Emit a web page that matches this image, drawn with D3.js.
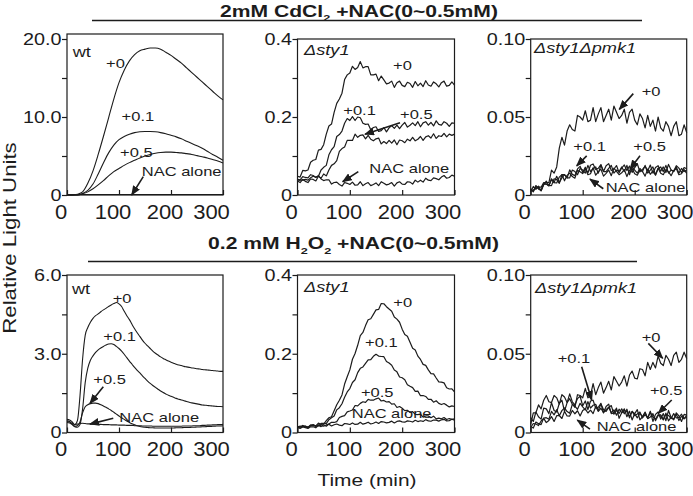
<!DOCTYPE html>
<html><head><meta charset="utf-8">
<script src="https://cdn.jsdelivr.net/npm/d3@7"></script>
<style>body{margin:0;background:#fff}svg{display:block}</style>
</head><body><svg id="c" width="693" height="496"></svg>
<script>
// ---------- DATA ----------
const times10 = d3.range(0, 301, 10);
const times5 = d3.range(0, 301, 5);
const seriesNames = ['+0', '+0.1', '+0.5', 'NAC alone'];

// 2mM CdCl2, wt (10-min grid)
const cd_wt_0   = [0,0,0.1,0.4,1.5,3.1,5.2,7.5,9.9,12.3,14.4,16.0,17.2,18.0,18.5,18.7,18.85,18.85,18.7,18.3,17.9,17.4,16.9,16.3,15.7,15.1,14.5,13.9,13.3,12.7,12.2];
const cd_wt_01  = [0,0,0,0.2,0.6,1.4,2.7,4.1,5.4,6.4,7.1,7.5,7.8,8.0,8.1,8.15,8.15,8.1,8.0,7.85,7.65,7.45,7.2,6.9,6.6,6.3,6.0,5.6,5.2,4.85,4.45];
const cd_wt_05  = [0,0,0,0.15,0.4,0.8,1.3,1.85,2.45,3.0,3.4,3.8,4.15,4.45,4.75,5.0,5.2,5.35,5.45,5.5,5.5,5.45,5.4,5.3,5.2,5.05,4.9,4.75,4.55,4.35,4.1];
const cd_wt_nac = [0.05,0.05,0.06,0.06,0.07,0.07,0.07,0.06,0.06,0.06,0.06,0.06,0.06,0.06,0.06,0.06,0.06,0.06,0.06,0.06,0.06,0.06,0.06,0.06,0.06,0.06,0.06,0.06,0.06,0.06,0.06];

// 2mM CdCl2, Δsty1 (5-min grid)
const cd_sty1_0 = [0.048,0.046,0.063,0.062,0.064,0.084,0.089,0.091,0.115,0.117,0.129,0.156,0.177,0.182,0.212,0.235,0.246,0.261,0.296,0.308,0.313,0.330,0.322,0.327,0.342,0.326,0.329,0.329,0.308,0.308,0.310,0.293,0.305,0.295,0.285,0.287,0.292,0.276,0.288,0.292,0.281,0.278,0.289,0.286,0.276,0.291,0.280,0.287,0.278,0.293,0.282,0.279,0.290,0.285,0.277,0.288,0.292,0.279,0.281,0.290,0.282];
const cd_sty1_01 = [0.034,0.039,0.038,0.040,0.038,0.044,0.048,0.046,0.048,0.064,0.071,0.076,0.103,0.116,0.124,0.150,0.155,0.164,0.184,0.196,0.191,0.201,0.191,0.200,0.198,0.184,0.181,0.182,0.167,0.173,0.175,0.163,0.165,0.173,0.162,0.172,0.178,0.171,0.179,0.170,0.179,0.186,0.174,0.179,0.185,0.178,0.188,0.175,0.185,0.188,0.179,0.186,0.177,0.190,0.181,0.179,0.188,0.184,0.176,0.185,0.184];
const cd_sty1_05 = [0.036,0.032,0.040,0.035,0.032,0.041,0.040,0.036,0.048,0.043,0.054,0.049,0.064,0.076,0.080,0.088,0.112,0.119,0.123,0.140,0.140,0.140,0.156,0.148,0.153,0.154,0.144,0.153,0.143,0.139,0.144,0.146,0.131,0.137,0.132,0.140,0.133,0.141,0.129,0.141,0.139,0.134,0.143,0.139,0.148,0.139,0.143,0.150,0.140,0.149,0.152,0.146,0.157,0.145,0.152,0.150,0.158,0.149,0.156,0.153,0.156];
const cd_sty1_nac = [0.040,0.039,0.047,0.045,0.044,0.052,0.050,0.045,0.050,0.041,0.037,0.039,0.039,0.028,0.032,0.033,0.027,0.023,0.032,0.030,0.027,0.033,0.025,0.026,0.034,0.024,0.029,0.032,0.024,0.027,0.031,0.024,0.034,0.030,0.026,0.028,0.032,0.023,0.031,0.034,0.028,0.027,0.034,0.033,0.028,0.038,0.033,0.038,0.033,0.043,0.038,0.037,0.044,0.042,0.039,0.046,0.050,0.043,0.045,0.051,0.048];

// 2mM CdCl2, Δsty1Δpmk1 (5-min grid)
const cd_dd_0 = [0.003,0.003,0.005,0.005,0.005,0.008,0.008,0.008,0.016,0.014,0.018,0.030,0.037,0.032,0.041,0.045,0.042,0.041,0.051,0.050,0.048,0.054,0.047,0.048,0.056,0.047,0.052,0.056,0.047,0.051,0.055,0.048,0.057,0.053,0.049,0.051,0.055,0.046,0.053,0.055,0.048,0.045,0.052,0.049,0.043,0.051,0.044,0.048,0.041,0.050,0.043,0.041,0.047,0.044,0.038,0.044,0.047,0.038,0.039,0.045,0.040];
const cd_dd_01 = [0.002,0.0055,0.0036,0.0057,0.0026,0.0066,0.0089,0.0061,0.006,0.0104,0.0099,0.0075,0.013,0.013,0.0109,0.0161,0.0132,0.0124,0.0167,0.0184,0.0145,0.0178,0.0141,0.0191,0.0199,0.0163,0.0171,0.0195,0.0151,0.0187,0.0201,0.0157,0.0165,0.0189,0.0143,0.0173,0.0193,0.0157,0.0185,0.0145,0.0176,0.0200,0.0148,0.0164,0.0184,0.0156,0.0192,0.0140,0.0176,0.0188,0.0152,0.0180,0.0144,0.0196,0.0160,0.0152,0.0188,0.0172,0.0144,0.0176,0.0168];
const cd_dd_05 = [0.004,0.002,0.006,0.004,0.003,0.007,0.007,0.006,0.010,0.008,0.012,0.008,0.011,0.013,0.011,0.011,0.016,0.015,0.013,0.017,0.016,0.014,0.019,0.015,0.017,0.018,0.014,0.019,0.015,0.015,0.017,0.019,0.014,0.016,0.015,0.018,0.015,0.019,0.013,0.018,0.016,0.014,0.017,0.015,0.019,0.014,0.016,0.018,0.013,0.017,0.018,0.015,0.019,0.014,0.016,0.015,0.018,0.014,0.017,0.015,0.016];
const cd_dd_nac = [0.0039,0.0023,0.0058,0.0039,0.0029,0.0073,0.0071,0.0058,0.0104,0.0079,0.0077,0.0115,0.0131,0.0091,0.0126,0.014,0.0118,0.0108,0.0158,0.0149,0.0137,0.0169,0.013,0.0136,0.0175,0.0127,0.0148,0.0166,0.0121,0.0139,0.016,0.0124,0.0172,0.0151,0.013,0.0142,0.0163,0.0118,0.0157,0.0169,0.0136,0.0127,0.016,0.0151,0.0121,0.0166,0.0133,0.0154,0.0127,0.0172,0.0139,0.013,0.0163,0.0148,0.0124,0.0157,0.0169,0.013,0.0136,0.0163,0.0139];

// 0.2 mM H2O2, wt (5-min grid)
const h_wt_0 = [0.50,0.48,0.40,0.30,0.45,1.4,2.8,3.7,4.0,4.2,4.35,4.45,4.52,4.6,4.67,4.73,4.8,4.86,4.91,4.95,4.9,4.8,4.62,4.45,4.3,4.12,3.95,3.8,3.66,3.52,3.4,3.3,3.2,3.1,3.02,2.95,2.88,2.82,2.77,2.72,2.68,2.64,2.6,2.57,2.55,2.52,2.5,2.48,2.46,2.45,2.43,2.42,2.4,2.39,2.38,2.37,2.36,2.35,2.34,2.33,2.33];
const h_wt_01 = [0.45,0.42,0.32,0.22,0.20,0.30,0.9,1.9,2.45,2.75,2.92,3.05,3.15,3.22,3.28,3.33,3.37,3.38,3.35,3.28,3.2,3.1,2.98,2.85,2.72,2.6,2.48,2.37,2.27,2.16,2.06,1.96,1.87,1.79,1.72,1.65,1.58,1.52,1.47,1.42,1.38,1.34,1.3,1.27,1.24,1.21,1.18,1.15,1.13,1.11,1.09,1.07,1.05,1.04,1.03,1.02,1.01,1.0,0.99,0.99,0.98];
const h_wt_05 = [0.38,0.36,0.30,0.24,0.26,0.40,0.75,0.98,1.06,1.10,1.12,1.12,1.10,1.06,1.01,0.96,0.90,0.84,0.77,0.70,0.63,0.56,0.50,0.44,0.38,0.33,0.29,0.26,0.23,0.21,0.20,0.19,0.18,0.18,0.17,0.17,0.17,0.17,0.17,0.17,0.17,0.17,0.18,0.18,0.18,0.19,0.19,0.19,0.20,0.20,0.21,0.21,0.22,0.22,0.23,0.23,0.24,0.24,0.25,0.25,0.26];
const h_wt_nac = [0.42,0.40,0.34,0.30,0.32,0.34,0.35,0.34,0.33,0.33,0.32,0.32,0.31,0.31,0.30,0.30,0.30,0.29,0.29,0.29,0.28,0.28,0.28,0.27,0.27,0.27,0.26,0.26,0.26,0.25,0.25,0.25,0.25,0.24,0.24,0.24,0.24,0.24,0.24,0.24,0.24,0.24,0.24,0.24,0.24,0.25,0.25,0.25,0.25,0.26,0.26,0.26,0.27,0.27,0.28,0.28,0.29,0.29,0.30,0.30,0.31];

// 0.2 mM H2O2, Δsty1 (5-min grid)
const h_sty1_0 = [0.0155,0.013,0.018,0.014,0.0125,0.0195,0.019,0.0165,0.024,0.0205,0.021,0.030,0.0375,0.040,0.055,0.0705,0.082,0.0955,0.123,0.1415,0.159,0.186,0.2005,0.2215,0.246,0.254,0.2715,0.2865,0.289,0.300,0.3115,0.3125,0.3275,0.327,0.3195,0.3135,0.308,0.2935,0.288,0.280,0.2625,0.249,0.2445,0.229,0.214,0.2095,0.194,0.1855,0.173,0.1705,0.159,0.1495,0.149,0.1385,0.1285,0.128,0.126,0.1135,0.1105,0.111,0.103];
const h_sty1_01 = [0.012,0.0165,0.0145,0.0165,0.013,0.017,0.020,0.0165,0.0165,0.023,0.0235,0.0225,0.0325,0.0375,0.042,0.0575,0.063,0.073,0.0895,0.103,0.1115,0.127,0.134,0.152,0.163,0.1665,0.1755,0.1845,0.185,0.1935,0.1985,0.194,0.193,0.1925,0.1805,0.1765,0.171,0.1585,0.154,0.141,0.139,0.134,0.1215,0.1175,0.114,0.1045,0.105,0.0935,0.094,0.0915,0.084,0.0845,0.077,0.0805,0.074,0.071,0.0735,0.0695,0.065,0.0675,0.066];
const h_sty1_05 = [0.013,0.0105,0.014,0.0125,0.0105,0.0145,0.0145,0.012,0.018,0.015,0.0195,0.016,0.0215,0.026,0.0255,0.0275,0.038,0.041,0.043,0.0525,0.0545,0.057,0.0685,0.0675,0.074,0.078,0.0765,0.084,0.082,0.082,0.0855,0.0875,0.080,0.0815,0.0775,0.0785,0.072,0.073,0.0635,0.066,0.0615,0.0555,0.0565,0.051,0.053,0.046,0.0455,0.0465,0.039,0.042,0.042,0.0375,0.0415,0.0345,0.0365,0.035,0.038,0.033,0.0355,0.0335,0.035];
const h_sty1_nac = [0.0159,0.0138,0.0168,0.0154,0.0139,0.0175,0.0176,0.0155,0.0194,0.0171,0.0162,0.0192,0.0211,0.0166,0.0196,0.0215,0.0188,0.0173,0.0228,0.0219,0.0204,0.0244,0.0205,0.0211,0.026,0.0212,0.0233,0.0261,0.0216,0.0234,0.0265,0.0229,0.0277,0.0266,0.0245,0.0257,0.0288,0.0243,0.0282,0.0294,0.0271,0.0262,0.0295,0.0286,0.0266,0.0311,0.0278,0.0299,0.0282,0.0327,0.0294,0.0285,0.0318,0.0313,0.0289,0.0322,0.0334,0.0295,0.0301,0.0338,0.0314];

// 0.2 mM H2O2, Δsty1Δpmk1 (5-min grid)
const h_dd_0 = [0.0095,0.007,0.013,0.010,0.0085,0.0155,0.015,0.012,0.019,0.014,0.013,0.0185,0.0205,0.0135,0.019,0.0215,0.018,0.016,0.024,0.0235,0.022,0.028,0.022,0.0235,0.031,0.024,0.0285,0.032,0.025,0.0285,0.0325,0.027,0.0355,0.0325,0.0295,0.032,0.036,0.0295,0.0365,0.039,0.0345,0.034,0.0405,0.040,0.036,0.0445,0.040,0.0445,0.041,0.0485,0.044,0.0425,0.049,0.0465,0.0425,0.049,0.051,0.0445,0.0465,0.051,0.047];
const h_dd_01 = [0.005,0.0125,0.0125,0.0175,0.015,0.0205,0.0235,0.0195,0.019,0.0235,0.022,0.018,0.024,0.0225,0.019,0.0245,0.0195,0.0175,0.0215,0.023,0.017,0.020,0.0145,0.020,0.0205,0.0155,0.016,0.0185,0.0125,0.0165,0.018,0.012,0.0125,0.0155,0.009,0.0125,0.015,0.010,0.0135,0.008,0.012,0.0145,0.008,0.010,0.0125,0.009,0.0135,0.007,0.0115,0.013,0.0085,0.012,0.0075,0.014,0.0095,0.008,0.0125,0.0105,0.007,0.0115,0.011];
const h_dd_05 = [0.0038,0.0028,0.0066,0.0056,0.005,0.0092,0.0094,0.0084,0.0134,0.0112,0.0145,0.0106,0.0139,0.0156,0.0133,0.0122,0.0179,0.0168,0.0147,0.0185,0.0163,0.0144,0.0196,0.0155,0.0173,0.0179,0.014,0.0181,0.0146,0.0134,0.0159,0.0171,0.0116,0.014,0.0121,0.015,0.0119,0.0148,0.0093,0.0134,0.0119,0.0093,0.0122,0.010,0.013,0.0088,0.0098,0.012,0.0075,0.0106,0.0113,0.0084,0.0123,0.0074,0.0097,0.0085,0.0116,0.0076,0.0103,0.0087,0.0098];
const h_dd_nac = [0.0032,0.0057,0.0054,0.0044,0.0073,0.009,0.0063,0.0076,0.0101,0.007,0.0107,0.0108,0.0089,0.0134,0.0105,0.0104,0.014,0.0119,0.0138,0.0105,0.014,0.015,0.0124,0.0142,0.012,0.0165,0.0134,0.0154,0.0126,0.0145,0.016,0.0126,0.0144,0.011,0.0148,0.0126,0.0139,0.0132,0.0101,0.0134,0.0107,0.0117,0.013,0.0092,0.0114,0.0093,0.0128,0.0099,0.0086,0.0113,0.0104,0.008,0.0116,0.0108,0.0088,0.012,0.0092,0.0096,0.0116,0.0088,0.0108];

// Axis ticks and labels
const xTicks = [0, 100, 200, 300];
const xTickLabels = ['0', '100', '200', '300'];
const yTicksWt1 = [0, 10, 20],  yLabelsWt1 = ['0', '10.0', '20.0'], yMinorWt1 = [5, 15];
const yTicksSty = [0, 0.2, 0.4], yLabelsSty = ['0', '0.2', '0.4'],  yMinorSty = [0.1, 0.3];
const yTicksDd = [0, 0.05, 0.1], yLabelsDd = ['0', '0.05', '0.10'], yMinorDd = [0.025, 0.075];
const yTicksWt2 = [0, 3, 6],    yLabelsWt2 = ['0', '3.0', '6.0'],   yMinorWt2 = [1.5, 4.5];

// ---------- LAYOUT / STYLE ----------
const FONT = "'Liberation Sans', Arial, Helvetica, sans-serif";
const INK = '#1c1c1c';
const svg = d3.select('#c');
const cols = [[67, 223], [297.5, 454.5], [530.7, 686.7]];
const rows = [{bottom: 195, top: 39}, {bottom: 432.5, top: 275}];

const defs = svg.append('defs');
defs.append('marker').attr('id', 'ah').attr('viewBox', '0 0 10 8')
  .attr('refX', 9).attr('refY', 4).attr('markerWidth', 10).attr('markerHeight', 8)
  .attr('markerUnits', 'userSpaceOnUse').attr('orient', 'auto')
  .append('path').attr('d', 'M0,0L10,4L0,8Z').attr('fill', INK);

// horizontally stretched text helper; parts: strings or {sub:'2'}
function stext(parent, x, y, parts, o = {}) {
  const size = o.size || 13, sx = o.sx || 1.27;
  const t = parent.append('text')
    .attr('transform', `translate(${x},${y})` + (o.rotate ? ` rotate(${o.rotate})` : '') + ` scale(${sx},1)`)
    .attr('text-anchor', o.anchor || 'start')
    .attr('font-family', FONT).attr('font-size', size)
    .attr('font-weight', o.weight || 'normal').attr('fill', INK);
  if (o.italic) t.attr('font-style', 'italic');
  let shifted = false;
  (Array.isArray(parts) ? parts : [parts]).forEach(p => {
    if (typeof p === 'string') {
      const ts = t.append('tspan').text(p);
      if (shifted) { ts.attr('dy', -size * 0.3); shifted = false; }
    } else {
      t.append('tspan').attr('font-size', size * 0.6).attr('dy', size * 0.3).text(p.sub);
      shifted = true;
    }
  });
  return t;
}

const panels = [
  {col:0,row:0,max:20,boxTop:34,ticks:yTicksWt1,labels:yLabelsWt1,minor:yMinorWt1,times:times10,smooth:true,
   series:[cd_wt_0,cd_wt_01,cd_wt_05,cd_wt_nac],
   name:{text:'wt',t:11,v:17.7,italic:false},
   notes:[[75,16.3],[105,9.5],[102,4.9],[143.7,2.44]],
   arrows:[[146.7,2.35,124.4,0]]},
  {col:1,row:0,max:0.4,ticks:yTicksSty,labels:yLabelsSty,minor:yMinorSty,times:times5,smooth:false,
   series:[cd_sty1_0,cd_sty1_01,cd_sty1_05,cd_sty1_nac],
   name:{text:'Δsty1',t:12.4,v:0.359,italic:true},
   notes:[[182.5,0.321],[87.5,0.205],[195.9,0.194],[137.2,0.056]],
   arrows:[[195.9,0.185,129,0.156],[116.2,0.060,86.4,0.034]]},
  {col:2,row:0,max:0.1,ticks:yTicksDd,labels:yLabelsDd,minor:yMinorDd,times:times5,smooth:false,
   series:[cd_dd_0,cd_dd_01,cd_dd_05,cd_dd_nac],
   name:{text:'Δsty1Δpmk1',t:6.3,v:0.0911,italic:true},
   notes:[[213.5,0.0634],[81.9,0.0283],[197.3,0.0283],[144.2,0.0022]],
   arrows:[[197.3,0.0650,170.4,0.0549],[107.7,0.0251,88.5,0.0187],[210.2,0.0251,191,0.0166],[139.6,0.0040,114,0.0102]]},
  {col:0,row:1,max:6,ticks:yTicksWt2,labels:yLabelsWt2,minor:yMinorWt2,times:times5,smooth:true,
   series:[h_wt_0,h_wt_01,h_wt_05,h_wt_nac],
   name:{text:'wt',t:9.6,v:5.28,italic:false},
   notes:[[87.9,4.92],[69.8,3.50],[50.6,1.85],[100.6,0.41]],
   arrows:[[69.8,1.74,44.2,1.11],[89,0.54,44.2,0.32]]},
  {col:1,row:1,max:0.4,ticks:yTicksSty,labels:yLabelsSty,minor:yMinorSty,times:times5,smooth:false,
   series:[h_sty1_0,h_sty1_01,h_sty1_05,h_sty1_nac],
   name:{text:'Δsty1',t:12.4,v:0.358,italic:true},
   notes:[[183.1,0.318],[129,0.218],[121.3,0.091],[103.6,0.036]],
   arrows:[]},
  {col:2,row:1,max:0.1,ticks:yTicksDd,labels:yLabelsDd,minor:yMinorDd,times:times5,smooth:false,
   series:[h_dd_0,h_dd_01,h_dd_05,h_dd_nac],
   name:{text:'Δsty1Δpmk1',t:8.3,v:0.0884,italic:true},
   notes:[[213.5,0.0577],[51.9,0.0439],[229.4,0.0238],[126.9,0.0012]],
   arrows:[[226.2,0.0566,253.8,0.0471],[98,0.0418,117.3,0.0206],[271.2,0.0206,245.4,0.0122],[114,0.0022,89.6,0.0079]]}
];

const SXY = 1.2, SXX = 1.1;

panels.forEach(p => {
  const g = svg.append('g');
  const r = rows[p.row];
  const x = d3.scaleLinear().domain([0, 300]).range(cols[p.col]);
  const y = d3.scaleLinear().domain([0, p.max]).range([r.bottom, r.top]);
  const x0 = cols[p.col][0], x1 = cols[p.col][1];
  const top = p.boxTop !== undefined ? p.boxTop : r.top;

  // data lines
  const line = d3.line().x((d, i) => x(p.times[i])).y(d => y(d))
    .curve(p.smooth ? d3.curveMonotoneX : d3.curveLinear);
  p.series.forEach(s => {
    g.append('path').attr('d', line(s)).attr('fill', 'none')
      .attr('stroke', INK).attr('stroke-width', p.smooth ? 1.1 : 1.2)
      .attr('stroke-linejoin', 'round');
  });

  // frame
  g.append('rect').attr('x', x0).attr('y', top).attr('width', x1 - x0).attr('height', r.bottom - top)
    .attr('fill', 'none').attr('stroke', INK).attr('stroke-width', 1.2);

  // y axis major
  const ya = g.append('g').attr('transform', `translate(${x0},0)`)
    .call(d3.axisLeft(y).tickValues(p.ticks).tickFormat((d, i) => p.labels[i]).tickSize(5).tickPadding(0));
  ya.select('.domain').remove();
  ya.selectAll('line').attr('stroke', INK).attr('stroke-width', 1.2);
  ya.selectAll('text').attr('x', -5.5 / SXY).attr('dy', '0.32em')
    .attr('transform', `scale(${SXY},1)`).attr('font-family', FONT).attr('font-size', 16.5).attr('fill', INK);
  // y axis minor
  const ym = g.append('g').attr('transform', `translate(${x0},0)`)
    .call(d3.axisLeft(y).tickValues(p.minor).tickFormat('').tickSize(5));
  ym.select('.domain').remove();
  ym.selectAll('line').attr('stroke', INK).attr('stroke-width', 1.2);

  // x axis (inward ticks)
  const xa = g.append('g').attr('transform', `translate(0,${r.bottom})`)
    .call(d3.axisBottom(x).tickValues(xTicks).tickFormat((d, i) => xTickLabels[i]).tickSize(-5));
  xa.select('.domain').remove();
  xa.selectAll('line').attr('stroke', INK).attr('stroke-width', 1.2);
  xa.selectAll('text').attr('y', 24).attr('dy', 0)
    .attr('x', (d, i) => (i === xTicks.length - 1 ? -12 : -6.5) / SXX)
    .attr('transform', `scale(${SXX},1)`).attr('font-family', FONT).attr('font-size', 20).attr('fill', INK);

  // panel name
  stext(g, x(p.name.t), y(p.name.v), p.name.text, {size: 14, sx: 1.3, italic: p.name.italic});
  // series labels
  p.notes.forEach((n, i) => stext(g, x(n[0]), y(n[1]), seriesNames[i], {size: 13, sx: 1.27}));
  // arrows
  p.arrows.forEach(a => {
    g.append('line').attr('x1', x(a[0])).attr('y1', y(a[1])).attr('x2', x(a[2])).attr('y2', y(a[3]))
      .attr('stroke', INK).attr('stroke-width', 1.6).attr('marker-end', 'url(#ah)');
  });
});

// section titles and rules
stext(svg, 359, 16.5, ['2mM CdCl', {sub: '2'}, ' +NAC(0~0.5mM)'], {size: 16, sx: 1.32, weight: 'bold', anchor: 'middle'});
svg.append('line').attr('x1', 92).attr('x2', 642).attr('y1', 20.5).attr('y2', 20.5).attr('stroke', INK).attr('stroke-width', 1.3);
stext(svg, 353.5, 249, ['0.2 mM H', {sub: '2'}, 'O', {sub: '2'}, ' +NAC(0~0.5mM)'], {size: 16, sx: 1.32, weight: 'bold', anchor: 'middle'});
svg.append('line').attr('x1', 88).attr('x2', 637).attr('y1', 261.5).attr('y2', 261.5).attr('stroke', INK).attr('stroke-width', 1.3);

// axis titles
stext(svg, 16, 238, 'Relative Light Units', {size: 17.5, sx: 1.27, rotate: -90, anchor: 'middle'});
stext(svg, 367, 486, 'Time (min)', {size: 17, sx: 1.23, anchor: 'middle'});
</script></body></html>
